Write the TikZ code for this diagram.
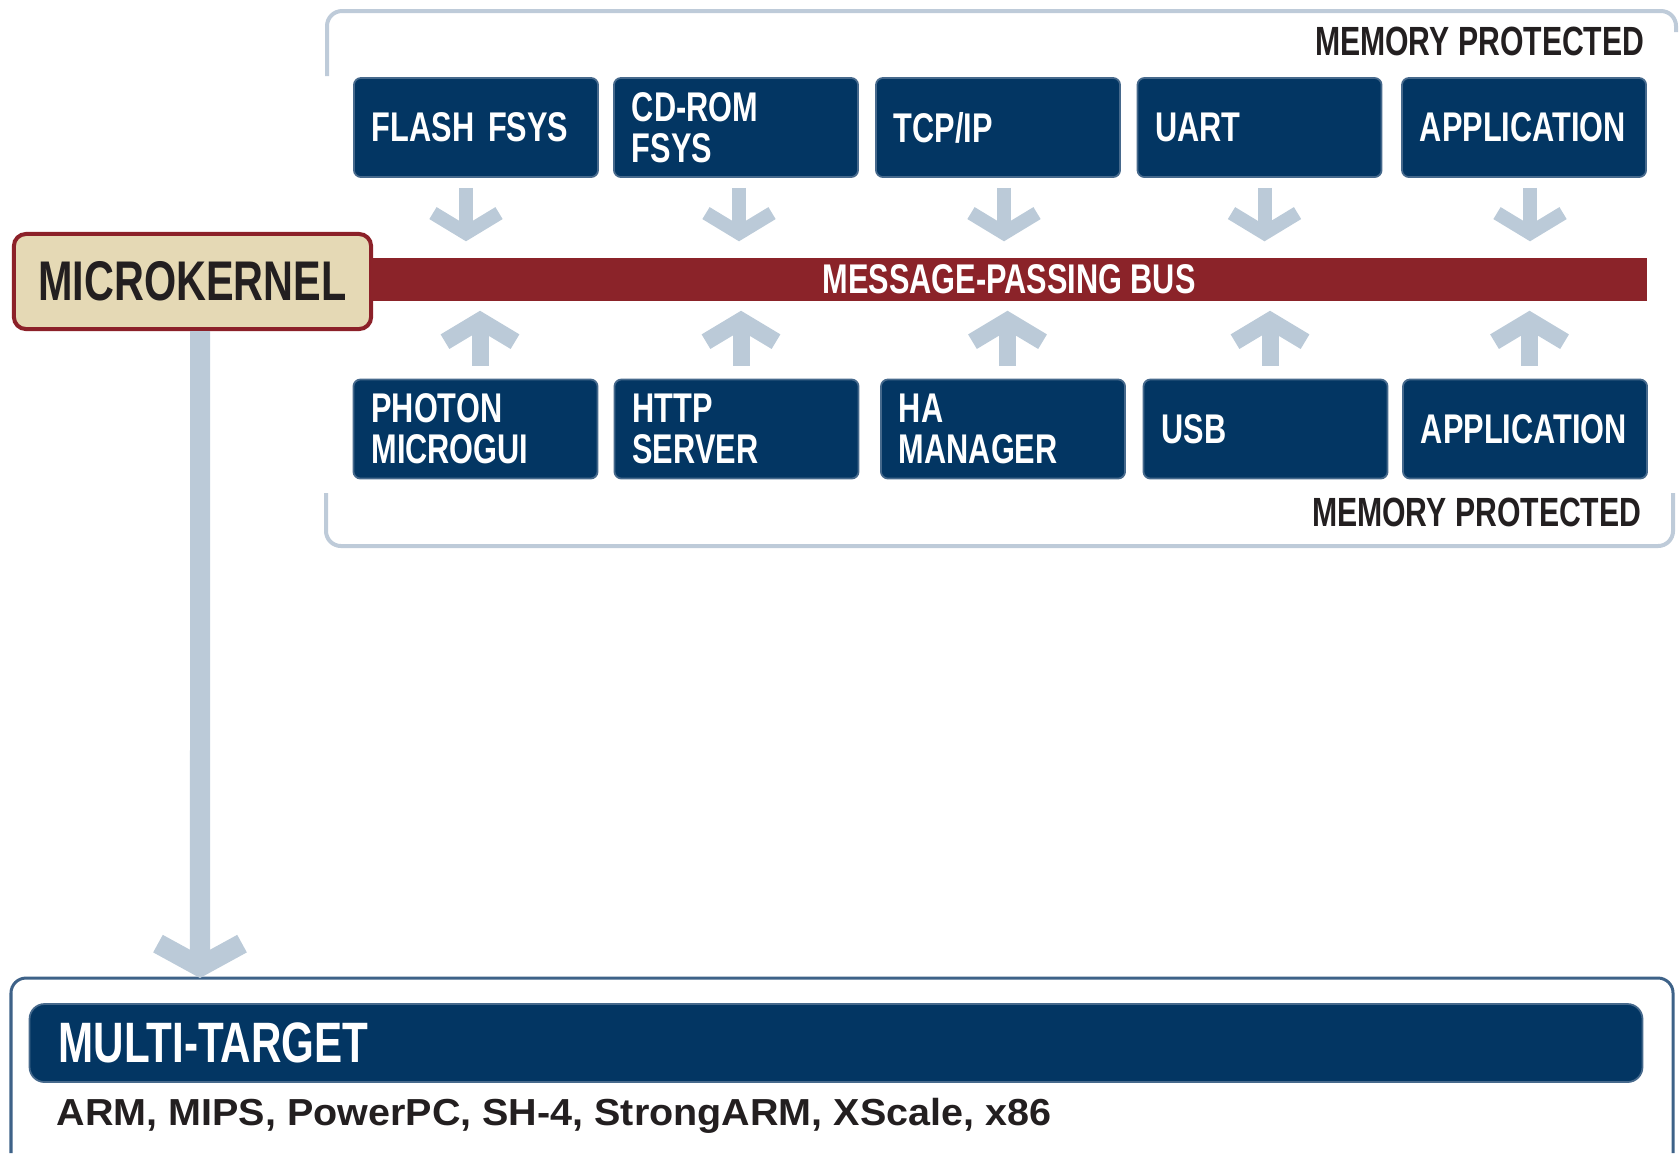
\documentclass[tikz,border=0pt]{standalone}
\usepackage{fontspec}
\setmainfont{Liberation Sans}
\newfontfamily\condfont{Liberation Sans}[FakeStretch=0.74]
\newfontfamily\widefont{Liberation Sans}[FakeStretch=1.05]
\usetikzlibrary{arrows.meta}
\definecolor{navy}{RGB}{3,54,99}
\definecolor{navyedge}{RGB}{70,105,140}
\definecolor{busred}{RGB}{139,35,41}
\definecolor{kernelfill}{RGB}{229,217,181}
\definecolor{kernelred}{RGB}{140,33,41}
\definecolor{flowblue}{RGB}{187,202,216}
\definecolor{bracketblue}{RGB}{190,203,217}
\definecolor{framedark}{RGB}{62,98,136}
\definecolor{inkdark}{RGB}{35,31,32}
\tikzset{
  modbox/.style={draw=navyedge, line width=0.5pt, fill=navy, rounded corners=0.07cm,
    minimum width=2.44cm, minimum height=0.99cm, text width=2.08cm, inner xsep=0.18cm,
    align=left, text=white, font=\condfont\bfseries\fontsize{11.8}{11.7}\selectfont},
  note/.style={inner sep=0pt, text=inkdark, font=\condfont\bfseries\fontsize{11.6}{12}\selectfont},
  bracket/.style={draw=bracketblue, line width=0.04cm, rounded corners=0.15cm},
  flowdown/.style={draw=flowblue, line width=0.14cm, shorten <=0.1cm, shorten >=0.16cm,
    -{Straight Barb[length=0.2cm, width=0.66cm]}},
  flowup/.style={draw=flowblue, line width=0.17cm, shorten <=0.13cm, shorten >=0.09cm,
    -{Straight Barb[length=0.21cm, width=0.7cm]}},
  bigflow/.style={draw=flowblue, line width=0.2cm, -{Straight Barb[length=0.23cm, width=0.84cm]}}
}
\begin{document}
\begin{tikzpicture}[x=0.01cm, y=-0.01cm]
\useasboundingbox (0,0) rectangle (1680,1153);
% memory protected frames
\draw[bracket] (327,76) -- (327,11) -- (1676,11) -- (1676,32);
\draw[bracket] (326,493) -- (326,546) -- (1673,546) -- (1673,493);
\node[note, anchor=east] (memtop) at (1645,41) {MEMORY PROTECTED};
\node[note, anchor=east] (membot) at (1642,512) {MEMORY PROTECTED};

% kernel and bus
\node[draw=kernelred, line width=0.04cm, fill=kernelfill, rounded corners=0.12cm, minimum width=3.57cm, minimum height=0.95cm, text=inkdark, font=\condfont\bfseries\fontsize{15.9}{18}\selectfont] (mk) at (192.5,281.5) {MICROKERNEL};
\node[fill=busred, minimum width=12.76cm, minimum height=0.43cm, inner sep=0pt, text=white, font=\condfont\bfseries\fontsize{11.8}{12}\selectfont] (bus) at (1009,279.5) {MESSAGE-PASSING BUS};

% upper row
\node[modbox] (flash) at (476,127.5) {FLASH FSYS};
\node[modbox] (cdrom) at (736,127.5) {CD-ROM\\FSYS};
\node[modbox] (tcpip) at (998,127.5) {TCP/IP};
\node[modbox] (uart) at (1259.5,127.5) {UART};
\node[modbox] (apptop) at (1524,127.5) {APPLICATION};

% lower row
\node[modbox] (photon) at (475.5,429) {PHOTON\\MICROGUI};
\node[modbox] (http) at (736.5,429) {HTTP\\SERVER};
\node[modbox] (hamgr) at (1003,429) {HA\\MANAGER};
\node[modbox] (usb) at (1265.5,429) {USB};
\node[modbox] (appbot) at (1525,429) {APPLICATION};

\foreach \n/\dx in {flash/-0.1,cdrom/0.03,tcpip/0.06,uart/0.05,apptop/0.06}
  \draw[flowdown] ([xshift=\dx cm]\n.south) -- ([xshift=\dx cm]\n.south |- bus.north);
\foreach \n in {photon,http,hamgr,usb,appbot}
  \draw[flowup] ([xshift=0.045cm]\n.north) -- ([xshift=0.045cm]\n.north |- bus.south);

% targets
\draw[draw=framedark, line width=0.03cm, rounded corners=0.15cm] (11,1153) -- (11,978) -- (1673,978) -- (1673,1153);
\coordinate (tgt) at (200,978);
\draw[bigflow] ([xshift=0.075cm]mk.south) -- (tgt);
\node[draw=navyedge, line width=0.5pt, fill=navy, rounded corners=0.15cm, minimum width=16.12cm, minimum height=0.78cm, text width=15.54cm, inner xsep=0.29cm, align=left, text=white, font=\condfont\bfseries\fontsize{16.2}{18}\selectfont] (multi) at (836,1043) {MULTI-TARGET};
\node[inner sep=0pt, anchor=base west, text=inkdark, font=\widefont\bfseries\fontsize{10.7}{12}\selectfont] (cpus) at (56,1125) {ARM, MIPS, PowerPC, SH-4, StrongARM, XScale, x86};
\end{tikzpicture}
\end{document}
